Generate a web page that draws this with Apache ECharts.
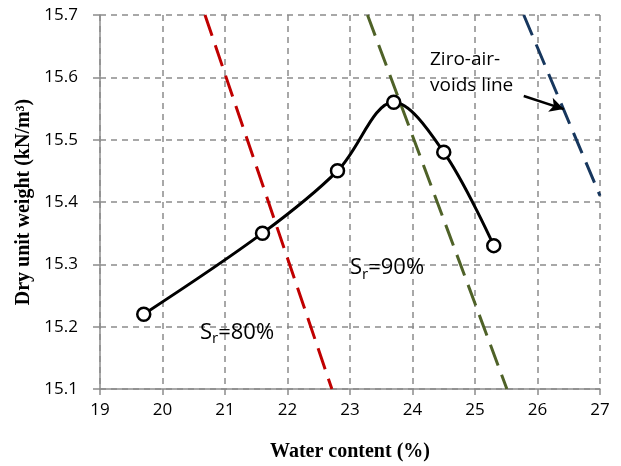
<!DOCTYPE html>
<html>
<head>
<meta charset="utf-8">
<script src="https://cdn.jsdelivr.net/npm/echarts@6/dist/echarts.min.js"></script>
<style>
  html, body { margin: 0; padding: 0; background: #fff; }
  #chart { width: 621px; height: 466px; }
</style>
</head>
<body>
<div id="chart"></div>
<script>
// compaction test points
const waterContent = [19.7, 21.6, 22.8, 23.7, 24.5, 25.3]
const dryUnitWeight = [15.22, 15.35, 15.45, 15.56, 15.48, 15.33]

// saturation lines (end points)
const sr80Water = [20.68, 22.71]
const sr80Weight = [15.7, 15.1]
const sr90Water = [23.28, 25.51]
const sr90Weight = [15.7, 15.1]
const zavWater = [25.78, 27.0]
const zavWeight = [15.7, 15.41]

// annotations
const noteText = ['{s|S}{sub|r}{s|=80%}', '{s|S}{sub|r}{s|=90%}', '{n|Ziro-air-}\n{n|voids line}']
const notePos = [[20.6, 15.191], [23.0, 15.294], [24.28, 15.608]]
const arrowFrom = [25.78, 15.57]
const arrowTo = [26.42, 15.549]

const xTicks = { min: 19, max: 27, interval: 1 }
const yTicks = { min: 15.1, max: 15.7, interval: 0.1 }

const pairs = (xs, ys) => xs.map((x, i) => [x, ys[i]])

const dashLine = (name, xs, ys, color) => ({
  name,
  type: 'line',
  data: pairs(xs, ys),
  showSymbol: false,
  silent: true,
  z: 3,
  lineStyle: { color, width: 3, type: [22, 10] }
})

const chart = echarts.init(document.getElementById('chart'))

const axisGray = '#8c8c8c'
const labelFont = '"Open Sans"'
const titleFont = '"Liberation Serif", "Times New Roman", serif'

chart.setOption({
  animation: false,
  grid: { left: 100, right: 21, top: 15, bottom: 77, outerBoundsMode: 'none', containLabel: false },
  xAxis: {
    type: 'value',
    min: xTicks.min,
    max: xTicks.max,
    interval: xTicks.interval,
    name: 'Water content (%)',
    nameLocation: 'middle',
    nameGap: 53,
    nameTextStyle: { fontFamily: titleFont, fontWeight: 'bold', fontSize: 20, color: '#000' },
    axisLine: { lineStyle: { color: axisGray, width: 1.5 } },
    axisTick: { show: true, length: 6, lineStyle: { color: axisGray, width: 1.5 } },
    axisLabel: { fontFamily: labelFont, fontSize: 17, color: '#000', margin: 13 },
    splitLine: { show: true, lineStyle: { color: axisGray, width: 1.5, type: [6, 5] } }
  },
  yAxis: {
    type: 'value',
    min: yTicks.min,
    max: yTicks.max,
    interval: yTicks.interval,
    name: 'Dry unit weight (kN/m³)',
    nameLocation: 'middle',
    nameRotate: 90,
    nameGap: 65,
    nameTextStyle: { fontFamily: titleFont, fontWeight: 'bold', fontSize: 20, color: '#000' },
    axisLine: { show: true, lineStyle: { color: axisGray, width: 1.5 } },
    axisTick: { show: true, length: 7, lineStyle: { color: axisGray, width: 1.5 } },
    axisLabel: {
      fontFamily: labelFont, fontSize: 17, color: '#000', margin: 22,
      formatter: (v) => v.toFixed(1)
    },
    splitLine: { show: true, lineStyle: { color: axisGray, width: 1.5, type: [6, 5] } }
  },
  series: [
    dashLine('Sr=80%', sr80Water, sr80Weight, '#c00000'),
    dashLine('Sr=90%', sr90Water, sr90Weight, '#4f6228'),
    dashLine('Zero air voids', zavWater, zavWeight, '#17375e'),
    {
      name: 'Compaction',
      type: 'line',
      data: pairs(waterContent, dryUnitWeight),
      smooth: 0.35,
      symbol: 'circle',
      symbolSize: 13,
      z: 5,
      itemStyle: { color: '#fff', borderColor: '#000', borderWidth: 2.5 },
      lineStyle: { color: '#000', width: 3 }
    },
    {
      name: 'notes',
      type: 'scatter',
      symbolSize: 0,
      silent: true,
      z: 6,
      itemStyle: { opacity: 1 },
      data: notePos.map((p, i) => ({ value: p, text: noteText[i] })),
      label: {
        show: true,
        position: 'right',
        distance: 0,
        align: 'left',
        color: '#000',
        opacity: 1,
        formatter: (p) => p.data.text,
        rich: {
          s: { fontFamily: labelFont, fontSize: 22, lineHeight: 28, color: '#000' },
          sub: { fontFamily: labelFont, fontSize: 15, lineHeight: 12, verticalAlign: 'bottom', color: '#000' },
          n: { fontFamily: labelFont, fontSize: 19, lineHeight: 26, color: '#000' }
        }
      },
      markLine: {
        silent: true,
        symbol: ['none', 'arrow'],
        symbolSize: [11, 14],
        label: { show: false },
        lineStyle: { color: '#000', width: 2.5, type: 'solid', opacity: 1 },
        data: [[{ coord: arrowFrom }, { coord: arrowTo }]]
      }
    }
  ]
})
</script>
</body>
</html>
